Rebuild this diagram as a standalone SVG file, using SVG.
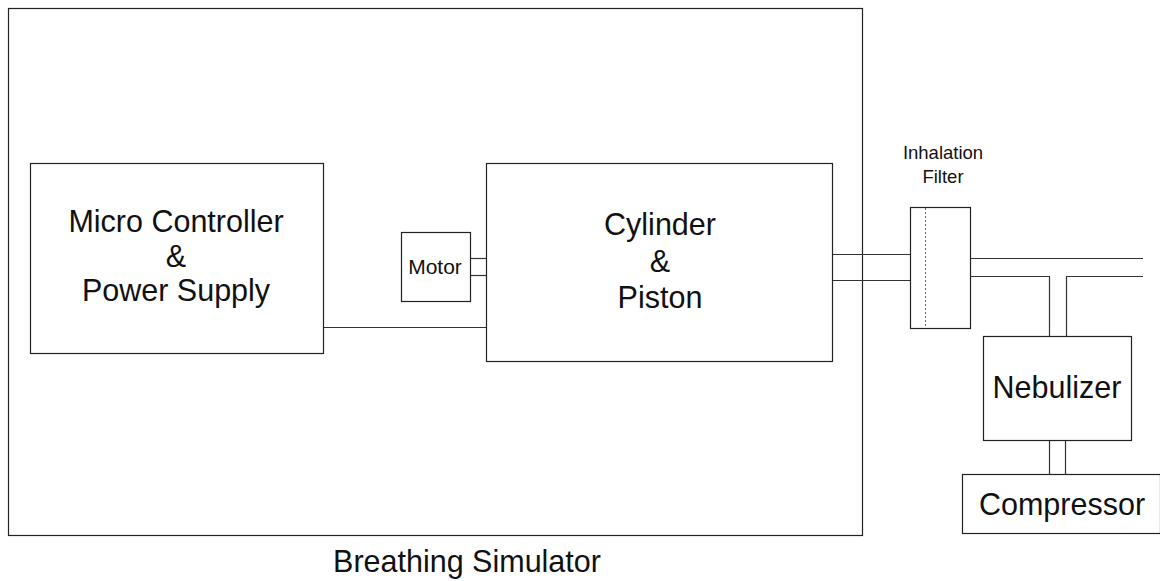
<svg xmlns="http://www.w3.org/2000/svg" width="1160" height="581" viewBox="0 0 1160 581">
<style>
.box{fill:#fff;stroke:#222;stroke-width:1.2}
.ln{fill:none;stroke:#333;stroke-width:1.2}
.t{font-family:"Liberation Sans",Arial,sans-serif;fill:#111;text-anchor:middle}
.big{font-size:30.5px}
</style>
<rect width="1160" height="581" fill="#fff"/>
<g id="breathing-simulator">
<rect class="box" x="8.5" y="8.5" width="854" height="527"/>
<text class="t big" x="467" y="572">Breathing Simulator</text>
</g>
<g id="connectors">
<line class="ln" x1="323" y1="327.5" x2="486" y2="327.5"/>
<line class="ln" x1="470" y1="258.5" x2="486" y2="258.5"/>
<line class="ln" x1="470" y1="275.5" x2="486" y2="275.5"/>
<line class="ln" x1="832" y1="254.5" x2="910" y2="254.5"/>
<line class="ln" x1="832" y1="280.5" x2="910" y2="280.5"/>
<line class="ln" x1="971" y1="258.5" x2="1143" y2="258.5"/>
<polyline class="ln" points="971,276.5 1049.5,276.5 1049.5,336"/>
<polyline class="ln" points="1143,276.5 1066.5,276.5 1066.5,336"/>
<line class="ln" x1="1049.5" y1="440" x2="1049.5" y2="474"/>
<line class="ln" x1="1065.5" y1="440" x2="1065.5" y2="474"/>
</g>
<g id="micro-controller">
<rect class="box" x="30.5" y="163.5" width="293" height="190"/>
<text class="t big" x="176" y="232">Micro Controller</text>
<text class="t big" x="176" y="267">&amp;</text>
<text class="t big" x="176" y="301">Power Supply</text>
</g>
<g id="motor">
<rect class="box" x="401.5" y="232.5" width="69" height="69"/>
<text class="t" x="435" y="274" font-size="21">Motor</text>
</g>
<g id="cylinder">
<rect class="box" x="486.5" y="163.5" width="346" height="198"/>
<text class="t big" x="660" y="235">Cylinder</text>
<text class="t big" x="660" y="272">&amp;</text>
<text class="t big" x="660" y="308">Piston</text>
</g>
<g id="inhalation-filter">
<rect class="box" x="910.5" y="207.5" width="60" height="121"/>
<line x1="925.5" y1="208" x2="925.5" y2="328" stroke="#666" stroke-width="1" stroke-dasharray="2,2"/>
<text class="t" x="943" y="159" font-size="18.5">Inhalation</text>
<text class="t" x="943" y="183" font-size="18.5">Filter</text>
</g>
<g id="nebulizer">
<rect class="box" x="983.5" y="336.5" width="148" height="104"/>
<text class="t big" x="1057" y="398">Nebulizer</text>
</g>
<g id="compressor">
<rect class="box" x="962.5" y="474.5" width="198" height="59"/>
<text class="t big" x="1062" y="515">Compressor</text>
</g>
</svg>
